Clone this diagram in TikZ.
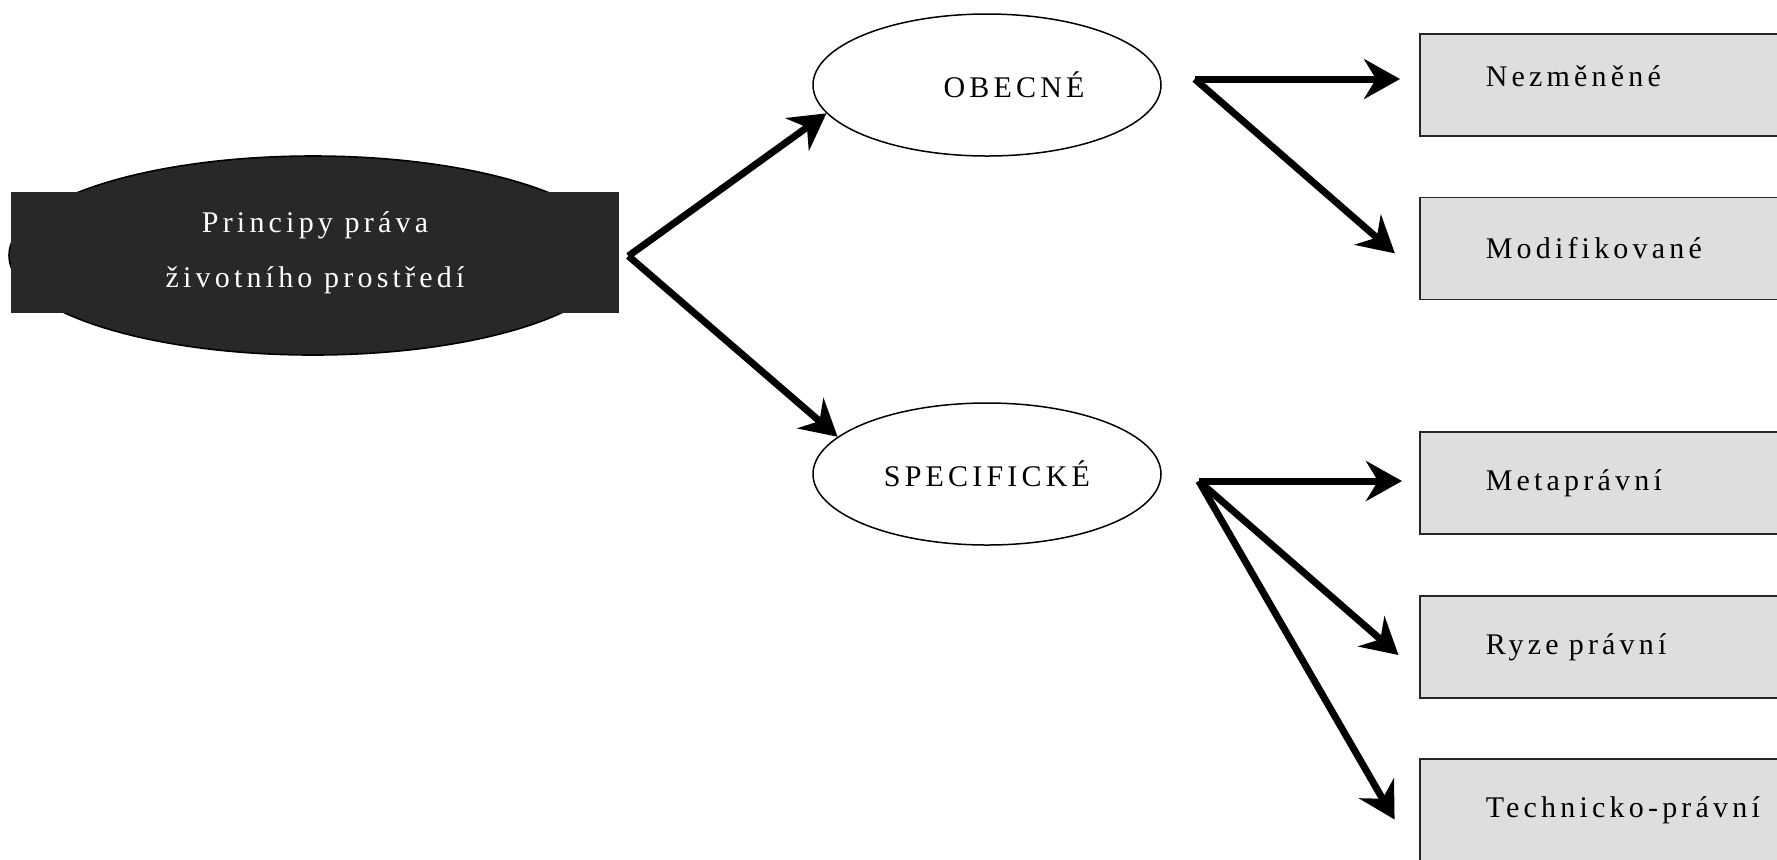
\documentclass[tikz,border=0pt]{standalone}
\usepackage{fontspec}
\setmainfont{Liberation Serif}[LetterSpace=14]
\usetikzlibrary{arrows.meta,shapes.geometric,calc}
\definecolor{rootfill}{HTML}{282828}
\definecolor{leaffill}{HTML}{DEDEDE}
\tikzset{
  root oval/.style={ellipse,draw=black,line width=0.8pt,fill=rootfill,inner sep=0pt,
    minimum width=304pt,minimum height=99.5pt},
  root box/.style={rectangle,fill=rootfill,text=white,inner sep=0pt,
    minimum width=304pt,minimum height=60.5pt,align=center,
    font=\fontsize{15}{27.5}\selectfont},
  group oval/.style={ellipse,draw=black,line width=0.75pt,fill=white,inner sep=0pt,
    minimum width=174pt,minimum height=71pt,font=\fontsize{15}{18}\selectfont},
  leaf box/.style={rectangle,draw=black!85,line width=0.75pt,fill=leaffill,anchor=west,
    inner xsep=33pt,inner ysep=0pt,text width=200pt,minimum height=51pt,align=left,
    font=\fontsize{15}{18}\selectfont},
  branch/.style={line width=3.5pt,-{Stealth[length=18pt,width=20pt,inset=6pt]}},
}
\begin{document}
\begin{tikzpicture}[x=0.5pt,y=-0.5pt,line join=miter]
        \clip (0,0) rectangle (1777,859);
        %%
        \node (rootoval) at (313,255.5) [root oval] {};
        \node (rootbox) at (315,252.5) [root box] {Principy práva\\životního prostředí};
        \node (obecne) at (987,85) [group oval] {\hspace*{27pt}OBECNÉ};
        \node (specificke) at (987,474) [group oval] {SPECIFICKÉ};
        \node (nezmenene) at (1419,85) [leaf box,text depth=9pt] {Nezměněné};
        \node (modifikovane) at (1419,248.5) [leaf box] {Modifikované};
        \node (metapravni) at (1419,483) [leaf box] {Metaprávní};
        \node (ryze) at (1419,647) [leaf box] {Ryze právní};
        \node (technicko) at (1419,810) [leaf box] {Technicko-právní};
        %
        \coordinate (forkroot) at ([xshift=4.5pt,yshift=-1.75pt]rootbox.east);
        \coordinate (forkobecne) at ([xshift=16.5pt,yshift=3pt]obecne.east);
        \coordinate (forkspec) at ([xshift=18.5pt,yshift=-3.5pt]specificke.east);
        \draw [branch] (forkroot) -- (obecne.190);
        \draw [branch] (forkroot) -- (specificke.166);
        \draw [branch,shorten >=9.5pt] (forkobecne) -- (forkobecne -| nezmenene.west);
        \draw [branch,shorten >=16pt] (forkobecne) -- ($(modifikovane.west)!0.5!(modifikovane.south west)$);
        \draw [branch,shorten >=8.5pt] (forkspec) -- (forkspec -| metapravni.west);
        \draw [branch,shorten >=13.6pt] (forkspec) -- ($(ryze.west)!0.5!(ryze.south west)$);
        \draw [branch,shorten >=24.4pt] (forkspec) -- (technicko.south west);
        %
\end{tikzpicture}
\end{document}
